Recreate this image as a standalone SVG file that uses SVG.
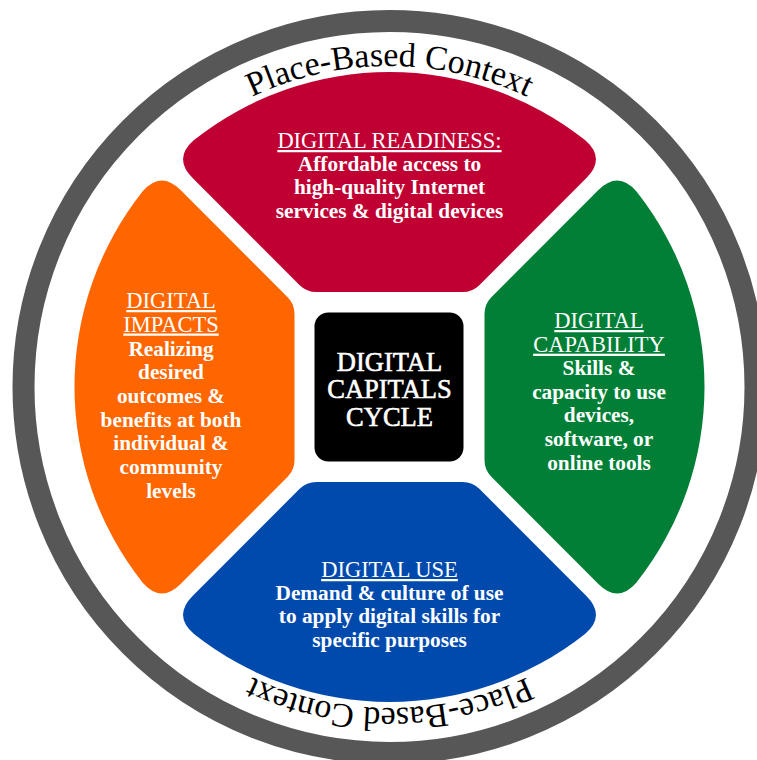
<svg xmlns="http://www.w3.org/2000/svg" width="757" height="760" viewBox="0 0 757 760">
<style>
.ctx{font-family:"Liberation Serif","Times New Roman",serif;font-size:34px;fill:#000}
.ttl{font-family:"Liberation Serif","Times New Roman",serif;font-size:22.5px;fill:#fff;text-anchor:middle;text-decoration:underline}
.body{font-family:"Liberation Serif","Times New Roman",serif;font-size:21.3px;font-weight:bold;fill:#fff;text-anchor:middle}
.ctr{font-family:"Liberation Serif","Times New Roman",serif;font-size:26.5px;fill:#fff;stroke:#fff;stroke-width:0.6;text-anchor:middle}
.red{fill:#C00032}.green{fill:#017F37}.blue{fill:#014AAD}.orange{fill:#FF6600}
</style>
<defs>
<path id="petal" d="M 73 -95 Q 83 -95 90.07 -102.07 L 196.9 -208.9 Q 216.7 -228.7 195.5 -247 A 315 315 0 0 0 -195.5 -247 Q -216.7 -228.7 -196.9 -208.9 L -90.07 -102.07 Q -83 -95 -73 -95 Z"/>
<path id="arcTop" d="M 68.5 387 A 321 321 0 0 1 710.5 387"/>
<path id="arcBot" d="M 710.5 387 A 321 321 0 0 1 68.5 387"/>
</defs>
<rect width="757" height="760" fill="#fff"/>
<g id="context-ring">
<circle cx="389.5" cy="387" r="366" fill="none" stroke="#575757" stroke-width="22"/>
<text class="ctx"><textPath href="#arcTop" startOffset="50%" text-anchor="middle">Place-Based Context</textPath></text>
<text class="ctx"><textPath href="#arcBot" startOffset="50%" text-anchor="middle">Place-Based Context</textPath></text>
</g>
<g id="digital-readiness">
<use href="#petal" class="red" transform="translate(389.5 387)"/>
<text class="ttl" x="389.5" y="148">DIGITAL READINESS:</text>
<text class="body" x="389.5" y="171">Affordable access to</text>
<text class="body" x="389.5" y="194">high-quality Internet</text>
<text class="body" x="389.5" y="217.5">services &amp; digital devices</text>
</g>
<g id="digital-capability">
<use href="#petal" class="green" transform="translate(389.5 387) rotate(90)"/>
<text class="ttl" x="599" y="328">DIGITAL</text>
<text class="ttl" x="599" y="351.7">CAPABILITY</text>
<text class="body" x="599" y="375">Skills &amp;</text>
<text class="body" x="599" y="398.5">capacity to use</text>
<text class="body" x="599" y="422">devices,</text>
<text class="body" x="599" y="446">software, or</text>
<text class="body" x="599" y="470">online tools</text>
</g>
<g id="digital-use">
<use href="#petal" class="blue" transform="translate(389.5 387) rotate(180)"/>
<text class="ttl" x="389.5" y="577">DIGITAL USE</text>
<text class="body" x="389.5" y="600">Demand &amp; culture of use</text>
<text class="body" x="389.5" y="623">to apply digital skills for</text>
<text class="body" x="389.5" y="646.5">specific purposes</text>
</g>
<g id="digital-impacts">
<use href="#petal" class="orange" transform="translate(389.5 387) rotate(270)"/>
<text class="ttl" x="171" y="308">DIGITAL</text>
<text class="ttl" x="171" y="331.5">IMPACTS</text>
<text class="body" x="171" y="355.5">Realizing</text>
<text class="body" x="171" y="379">desired</text>
<text class="body" x="171" y="402.5">outcomes &amp;</text>
<text class="body" x="171" y="426.5">benefits at both</text>
<text class="body" x="171" y="450">individual &amp;</text>
<text class="body" x="171" y="473.5">community</text>
<text class="body" x="171" y="497.5">levels</text>
</g>
<g id="center">
<rect x="314.5" y="312.5" width="149" height="149" rx="14" fill="#000"/>
<text class="ctr" x="389.5" y="370.7">DIGITAL</text>
<text class="ctr" x="389.5" y="398.3">CAPITALS</text>
<text class="ctr" x="389.5" y="425.7">CYCLE</text>
</g>
</svg>
